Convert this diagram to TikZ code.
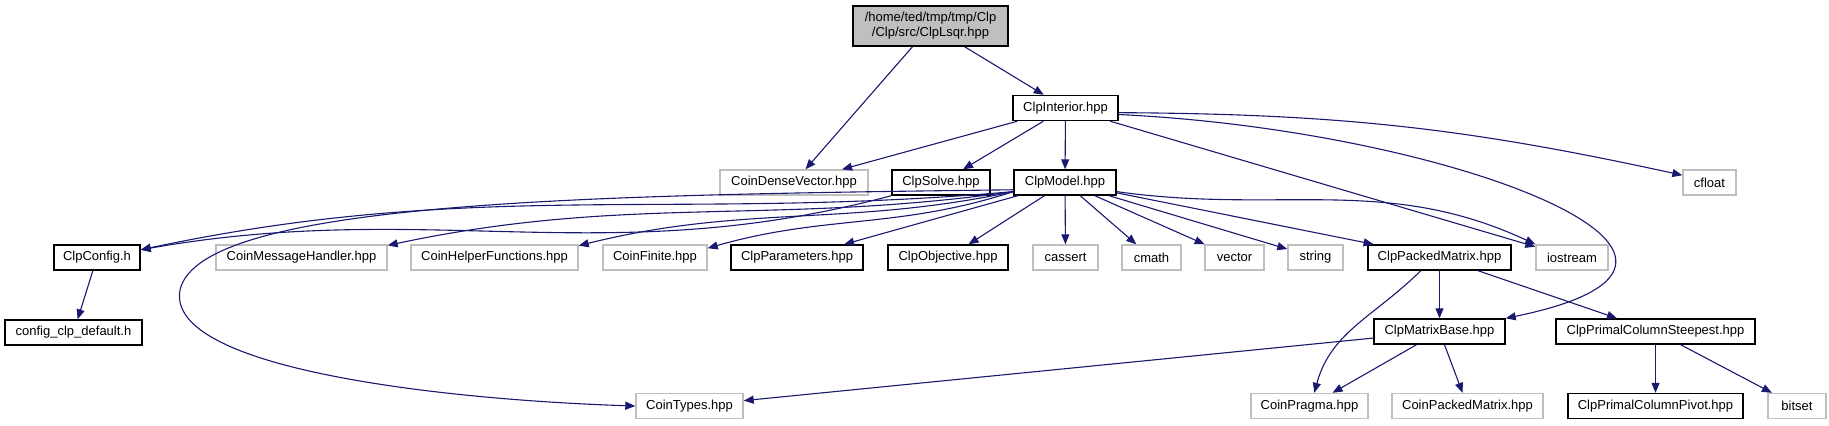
\documentclass[tikz,border=0pt]{standalone}
\usepackage{fontspec}
\setmainfont{Liberation Sans}
\usetikzlibrary{arrows.meta}
\definecolor{dxblue}{RGB}{25,25,112}
\definecolor{dxgray}{RGB}{191,191,191}

\begin{document}
\begin{tikzpicture}[x=0.5pt,y=-0.5pt,font=\fontsize{6.5}{7.5}\selectfont,
    file/.style={draw=black,line width=0.7pt,minimum height=12.5pt,inner sep=0pt,align=center},
    sysfile/.style={draw=dxgray,line width=0.7pt,minimum height=12.5pt,inner sep=0pt},
    dep/.style={draw=dxblue,line width=0.55pt,-{Triangle[length=5pt,width=4pt]}},
    every edge/.style={dep}]
    \useasboundingbox (0,0) rectangle (1829,425);
    % top
    \node[file,fill=dxgray,minimum width=77.5pt,minimum height=20pt] (lsqr) at (930.5,26) {/home/ted/tmp/tmp/Clp\\/Clp/src/ClpLsqr.hpp};
    \node[file,minimum width=52.5pt] (interior) at (1065.5,108) {ClpInterior.hpp};
    \node[sysfile,minimum width=74pt] (densevec) at (794,182.5) {CoinDenseVector.hpp};
    \node[file,minimum width=49pt] (solve) at (941,182.5) {ClpSolve.hpp};
    \node[file,minimum width=51pt] (model) at (1065,182.5) {ClpModel.hpp};
    \node[sysfile,minimum width=26.5pt] (cfloat) at (1709.5,182.5) {cfloat};
    % middle row
    \node[file,minimum width=43pt] (config) at (97,257.5) {ClpConfig.h};
    \node[sysfile,minimum width=85.5pt] (msghandler) at (301.5,257.5) {CoinMessageHandler.hpp};
    \node[sysfile,minimum width=83.5pt] (helperfn) at (494.5,257.5) {CoinHelperFunctions.hpp};
    \node[sysfile,minimum width=52pt] (finite) at (655,257.5) {CoinFinite.hpp};
    \node[file,minimum width=66pt] (params) at (797,257.5) {ClpParameters.hpp};
    \node[file,minimum width=60pt] (objective) at (948,257.5) {ClpObjective.hpp};
    \node[sysfile,minimum width=32.5pt] (cassert) at (1065.5,257.5) {cassert};
    \node[sysfile,minimum width=29.5pt] (cmath) at (1151.5,257.5) {cmath};
    \node[sysfile,minimum width=29.5pt] (vector) at (1234.5,257.5) {vector};
    \node[sysfile,minimum width=27.5pt] (string) at (1315.5,257.5) {string};
    \node[file,minimum width=71.5pt] (packed) at (1439.5,257.5) {ClpPackedMatrix.hpp};
    \node[sysfile,minimum width=36pt] (iostream) at (1572,257.5) {iostream};
    % lower rows
    \node[file,minimum width=68.5pt] (cfgdefault) at (73.5,332.5) {config\_clp\_default.h};
    \node[file,minimum width=65.5pt] (matbase) at (1439.5,331.5) {ClpMatrixBase.hpp};
    \node[file,minimum width=99.5pt] (steepest) at (1655.5,331.5) {ClpPrimalColumnSteepest.hpp};
    \node[sysfile,minimum width=53.5pt] (cointypes) at (689.5,406) {CoinTypes.hpp};
    \node[sysfile,minimum width=58.5pt] (pragma) at (1309.5,406) {CoinPragma.hpp};
    \node[sysfile,minimum width=75.5pt] (coinpacked) at (1467.5,406) {CoinPackedMatrix.hpp};
    \node[file,minimum width=87.5pt] (pivot) at (1655.5,406) {ClpPrimalColumnPivot.hpp};
    \node[sysfile,minimum width=29pt] (bitset) at (1797,406) {bitset};

    \path (lsqr) edge (densevec) (lsqr) edge (interior);
    \path (interior) edge (densevec) (interior) edge (solve) (interior) edge (model)
          (interior) edge (iostream);
    \path (interior.-5) edge[bend left=6] (cfloat.165);
    \draw[dep] (interior.-7) .. controls (1450,130) and (1790,260) .. (matbase.north east);
    \path (solve.south west) edge[out=195,in=10] (config.10);
    % ClpModel.hpp
    \path (model.-170) edge[out=185,in=12] (config.10)
          (model.-170) edge[out=188,in=12] (msghandler.8)
          (model.-170) edge[out=192,in=14] (helperfn.8)
          (model.-170) edge[out=198,in=16] (finite.10);
    \path (model) edge (params) (model) edge (objective) (model) edge (cassert)
          (model) edge (cmath) (model) edge (vector) (model) edge (string)
          (model) edge (packed);
    \path (model.-10) edge[out=-8,in=155] (iostream.north west);
    \draw[dep] (model.-172) .. controls (600,195) and (200,200) .. (180,290)
          .. controls (165,370) and (450,400) .. (cointypes.west);
    \path (config) edge (cfgdefault);
    \path (packed) edge (matbase) (packed) edge (steepest);
    \path (packed.-145) edge[out=-135,in=75] (pragma.70);
    \path (matbase) edge (cointypes) (matbase) edge (pragma) (matbase) edge (coinpacked);
    \path (steepest) edge (pivot) (steepest) edge (bitset);
\end{tikzpicture}
\end{document}
